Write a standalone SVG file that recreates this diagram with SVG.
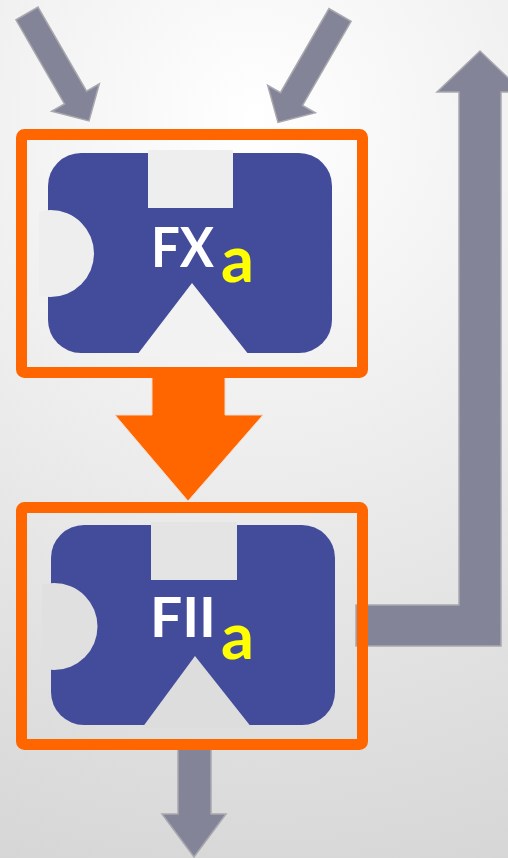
<svg xmlns="http://www.w3.org/2000/svg" width="508" height="858" viewBox="0 0 508 858">
  <defs>
    <radialGradient id="bg" cx="254" cy="120" r="820" gradientUnits="userSpaceOnUse">
      <stop offset="0" stop-color="#ffffff"/>
      <stop offset="1" stop-color="#d4d4d4"/>
    </radialGradient>
    <style>
      .flow { fill: #838497; stroke: #a8a8ae; stroke-width: 1.5; stroke-linejoin: miter; }
      .frame { fill: none; stroke: #ff6600; stroke-width: 11; }
      .body { fill: #434b9b; }
      .label { font-family: "Lato", "Open Sans", "Liberation Sans", sans-serif; font-weight: bold; }
      .main { fill: #ffffff; font-size: 56px; }
      .sub { fill: #ffff00; font-size: 65px; }
    </style>
    <clipPath id="clipTop"><rect x="39" y="140" width="320" height="230"/></clipPath>
    <clipPath id="clipBot"><rect x="42" y="512" width="320" height="230"/></clipPath>
  </defs>

  <rect width="508" height="858" fill="url(#bg)"/>

  <!-- connectors -->
  <g id="connectors">
    <polygon class="flow" transform="translate(27,13.5) rotate(60)" points="0,-12.75 97,-12.75 97,-27.5 124,0 97,27.5 97,12.75 0,12.75"/>
    <polygon class="flow" transform="translate(340,15) rotate(120)" points="0,-12.75 97,-12.75 97,-27.5 124,0 97,27.5 97,12.75 0,12.75"/>
    <polygon class="flow" points="356,605 459,605 459,92 437,92 480,51 523,92 501,92 501,646 356,646"/>
    <polygon class="flow" points="178,745 211,745 211,814 226,814 194,857 162,814 178,814"/>
    <polygon fill="#ff6600" stroke="#f0d8c8" stroke-width="1" points="152,372 225,372 225,415 263,415 188,501 115,415 152,415"/>
  </g>

  <!-- FXa -->
  <g id="node-fxa">
    <rect class="frame" x="21.5" y="134.5" width="341" height="238" rx="3"/>
    <rect class="body" x="48" y="153" width="284" height="200" rx="33"/>
    <rect x="148" y="150" width="85" height="58" fill="#eeeeee"/>
    <circle cx="50.5" cy="253.5" r="43.5" fill="#eeeeee" clip-path="url(#clipTop)"/>
    <polygon points="192,283 137,355 249,355" fill="#f2f2f2"/>
    <text class="label main" x="151" y="267" textLength="63" lengthAdjust="spacingAndGlyphs">FX</text>
    <text class="label sub" x="221" y="282">a</text>
  </g>

  <!-- FIIa -->
  <g id="node-fiia">
    <rect class="frame" x="21.5" y="507.5" width="341" height="237" rx="3"/>
    <rect class="body" x="51" y="525" width="284" height="200" rx="33"/>
    <rect x="151" y="522" width="86" height="58" fill="#e4e4e4"/>
    <circle cx="54" cy="626.5" r="43.5" fill="#e0e0e0" clip-path="url(#clipBot)"/>
    <polygon points="195,656 142,728 252,728" fill="#dddddd"/>
    <text class="label main" x="150" y="637" textLength="66" lengthAdjust="spacingAndGlyphs">FII</text>
    <text class="label sub" x="221" y="659">a</text>
  </g>
</svg>
